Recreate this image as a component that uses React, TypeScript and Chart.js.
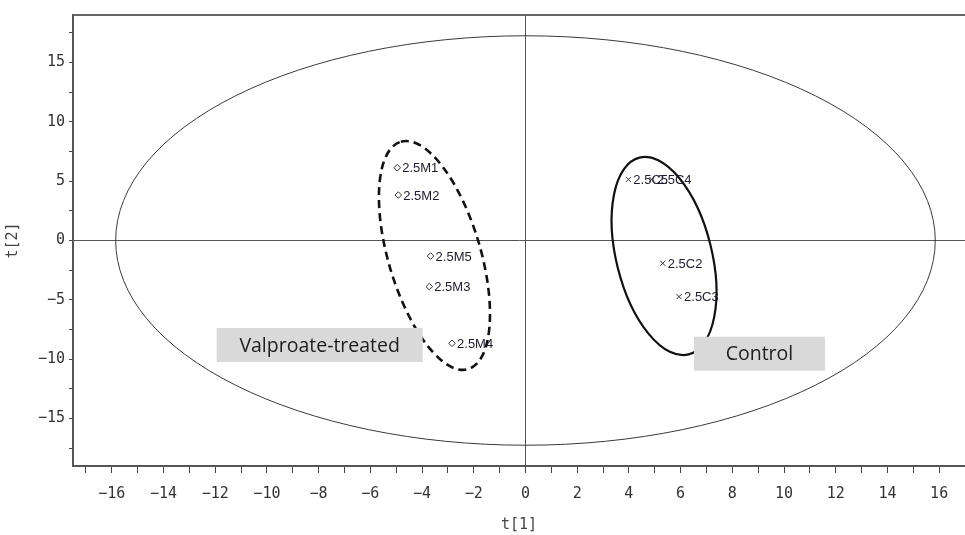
import React, { useEffect, useRef } from 'react';
import { Chart, registerables } from 'chart.js';

Chart.register(...registerables);

// Score values t[1] / t[2] per sample
const valproateLabels = ['2.5M1', '2.5M2', '2.5M3', '2.5M4', '2.5M5'];
const valproateT1 = [-4.96, -4.92, -3.72, -2.84, -3.67];
const valproateT2 = [6.13, 3.83, -3.89, -8.66, -1.31];

const controlLabels = ['2.5C5', '2.5C4', '2.5C2', '2.5C3'];
const controlT1 = [3.98, 4.89, 5.31, 5.94];
const controlT2 = [5.14, 5.14, -1.92, -4.73];

// Axis ticks
const xTickValues = [-17, -16, -15, -14, -13, -12, -11, -10, -9, -8, -7, -6, -5, -4, -3, -2, -1, 0, 1, 2, 3, 4, 5, 6, 7, 8, 9, 10, 11, 12, 13, 14, 15, 16, 17];
const xLabelledTicks = [-16, -14, -12, -10, -8, -6, -4, -2, 0, 2, 4, 6, 8, 10, 12, 14, 16];
const yTickValues = [-17.5, -15, -12.5, -10, -7.5, -5, -2.5, 0, 2.5, 5, 7.5, 10, 12.5, 15, 17.5];
const yLabelledTicks = [-15, -10, -5, 0, 5, 10, 15];

// Hotelling T2 ellipse (semi-axes along t[1] and t[2])
const hotellingCenter = [0, 0];
const hotellingRadii = [15.85, 17.25];

// Group ellipses: centre plus two conjugate semi-axis vectors, in score units
const valproateCenter = [-3.52, -1.26];
const valproateMajor = [-1.3, 9.58];
const valproateMinor = [1.71, 1.1];

const controlCenter = [5.36, -1.31];
const controlMajor = [-0.95, 8.29];
const controlMinor = [1.79, 0.98];

// Group tags anchored at score coordinates
const tagTexts = ['Valproate-treated', 'Control'];
const tagAnchorT1 = [-7.96, 9.05];
const tagAnchorT2 = [-8.8, -9.54];
const tagWidths = [206, 131];
const TAG_HEIGHT = 34;

const MINUS = '\u2212';
const fmt = (v: number) => (v < 0 ? MINUS + Math.abs(v) : String(v));

function traceEllipse(ctx: CanvasRenderingContext2D, xs: any, ys: any, c: number[], u: number[], v: number[]) {
  const x0 = xs.getPixelForValue(c[0]);
  const y0 = ys.getPixelForValue(c[1]);
  const ux = xs.getPixelForValue(c[0] + u[0]) - x0;
  const uy = ys.getPixelForValue(c[1] + u[1]) - y0;
  const vx = xs.getPixelForValue(c[0] + v[0]) - x0;
  const vy = ys.getPixelForValue(c[1] + v[1]) - y0;
  ctx.save();
  ctx.beginPath();
  ctx.transform(ux, uy, vx, vy, x0, y0);
  ctx.arc(0, 0, 1, 0, Math.PI * 2);
  ctx.closePath();
  ctx.restore();
}

const annotationPlugin = {
  id: 'scoreAnnotations',
  beforeDatasetsDraw(chart: any) {
    const { ctx, chartArea, scales } = chart;
    const xs = scales.x;
    const ys = scales.y;

    ctx.save();
    // top frame line
    ctx.strokeStyle = '#666';
    ctx.lineWidth = 2;
    ctx.beginPath();
    ctx.moveTo(chartArea.left, chartArea.top);
    ctx.lineTo(chartArea.right, chartArea.top);
    ctx.stroke();

    // Hotelling ellipse
    traceEllipse(ctx, xs, ys, hotellingCenter, [hotellingRadii[0], 0], [0, hotellingRadii[1]]);
    ctx.strokeStyle = '#3a3a3a';
    ctx.lineWidth = 1;
    ctx.setLineDash([]);
    ctx.stroke();

    // Valproate group (dashed)
    traceEllipse(ctx, xs, ys, valproateCenter, valproateMajor, valproateMinor);
    ctx.strokeStyle = '#111';
    ctx.lineWidth = 2.6;
    ctx.setLineDash([8, 5]);
    ctx.stroke();

    // Control group (solid)
    traceEllipse(ctx, xs, ys, controlCenter, controlMajor, controlMinor);
    ctx.setLineDash([]);
    ctx.lineWidth = 2.2;
    ctx.strokeStyle = '#111';
    ctx.stroke();

    // Group tags
    ctx.font = '19.5px "Open Sans"';
    ctx.textAlign = 'center';
    ctx.textBaseline = 'middle';
    tagTexts.forEach((text, i) => {
      const cx = xs.getPixelForValue(tagAnchorT1[i]);
      const cy = ys.getPixelForValue(tagAnchorT2[i]);
      const w = tagWidths[i];
      ctx.fillStyle = '#d9d9d9';
      ctx.fillRect(cx - w / 2, cy - TAG_HEIGHT / 2, w, TAG_HEIGHT);
      ctx.fillStyle = '#1e1e1e';
      ctx.fillText(text, cx, cy + 1);
    });
    ctx.restore();
  },
  afterDatasetsDraw(chart: any) {
    const { ctx } = chart;
    const groups = [valproateLabels, controlLabels];
    ctx.save();
    ctx.font = '13px "Liberation Sans"';
    ctx.fillStyle = '#1c1c2c';
    ctx.textAlign = 'left';
    ctx.textBaseline = 'middle';
    groups.forEach((labels, di) => {
      const meta = chart.getDatasetMeta(di);
      meta.data.forEach((pt: any, j: number) => {
        ctx.fillText(labels[j], pt.x + 5, pt.y + 1);
      });
    });
    ctx.restore();
  },
};

export default function App() {
  const canvasRef = useRef<HTMLCanvasElement | null>(null);

  useEffect(() => {
    const canvas = canvasRef.current;
    if (!canvas) return;

    const chart = new Chart(canvas, {
      type: 'scatter',
      data: {
        datasets: [
          {
            label: 'Valproate-treated',
            data: valproateT1.map((x, i) => ({ x, y: valproateT2[i] })),
            pointStyle: 'rectRot',
            pointRadius: 3.3,
            pointBorderWidth: 1,
            borderColor: '#333',
            backgroundColor: 'rgba(0,0,0,0)',
          },
          {
            label: 'Control',
            data: controlT1.map((x, i) => ({ x, y: controlT2[i] })),
            pointStyle: 'crossRot',
            pointRadius: 3.6,
            pointBorderWidth: 1,
            borderColor: '#333',
            backgroundColor: 'rgba(0,0,0,0)',
          },
        ],
      },
      options: {
        responsive: false,
        animation: false,
        events: [],
        layout: { autoPadding: false, padding: { top: 15, right: 0, left: 0, bottom: 0 } },
        plugins: {
          legend: { display: false },
          tooltip: { enabled: false },
        },
        scales: {
          x: {
            type: 'linear',
            min: -17.5,
            max: 17,
            afterBuildTicks: (scale: any) => {
              scale.ticks = xTickValues.map((value) => ({ value }));
            },
            afterFit: (scale: any) => {
              scale.height = 69;
              scale.paddingLeft = 0;
              scale.paddingRight = 0;
            },
            ticks: {
              autoSkip: false,
              maxRotation: 0,
              padding: 12,
              color: '#333',
              font: { family: '"DejaVu Sans Mono"', size: 15 },
              callback: (v: any) => (xLabelledTicks.includes(Number(v)) ? fmt(Number(v)) : ''),
            },
            grid: {
              drawOnChartArea: true,
              color: (c: any) => (c.tick && c.tick.value === 0 ? '#555' : 'rgba(0,0,0,0)'),
              tickColor: '#444',
              tickLength: 7,
              lineWidth: 1,
            },
            border: { display: true, color: '#555', width: 2 },
            title: {
              display: true,
              text: 't[1]',
              color: '#444',
              font: { family: '"DejaVu Sans Mono"', size: 15 },
              padding: { top: 0, bottom: 1 },
            },
          },
          y: {
            type: 'linear',
            min: -19,
            max: 19,
            afterBuildTicks: (scale: any) => {
              scale.ticks = yTickValues.map((value) => ({ value }));
            },
            afterFit: (scale: any) => {
              scale.width = 73;
              scale.paddingTop = 0;
              scale.paddingBottom = 0;
            },
            ticks: {
              autoSkip: false,
              padding: 4,
              color: '#333',
              font: { family: '"DejaVu Sans Mono"', size: 15 },
              callback: (v: any) => (yLabelledTicks.includes(Number(v)) ? fmt(Number(v)) : ''),
            },
            grid: {
              drawOnChartArea: true,
              color: (c: any) => (c.tick && c.tick.value === 0 ? '#555' : 'rgba(0,0,0,0)'),
              tickColor: '#444',
              tickLength: 4,
              lineWidth: 1,
            },
            border: { display: true, color: '#555', width: 2 },
            title: {
              display: true,
              text: 't[2]',
              color: '#444',
              font: { family: '"DejaVu Sans Mono"', size: 15 },
              padding: { top: 4, bottom: 0 },
            },
          },
        },
      },
      plugins: [annotationPlugin],
    });

    return () => chart.destroy();
  }, []);

  return (
    <div style={{ position: 'absolute', left: 0, top: 0, width: 965, height: 535, background: '#fff' }}>
      <canvas ref={canvasRef} width={965} height={535} style={{ display: 'block' }} />
    </div>
  );
}
